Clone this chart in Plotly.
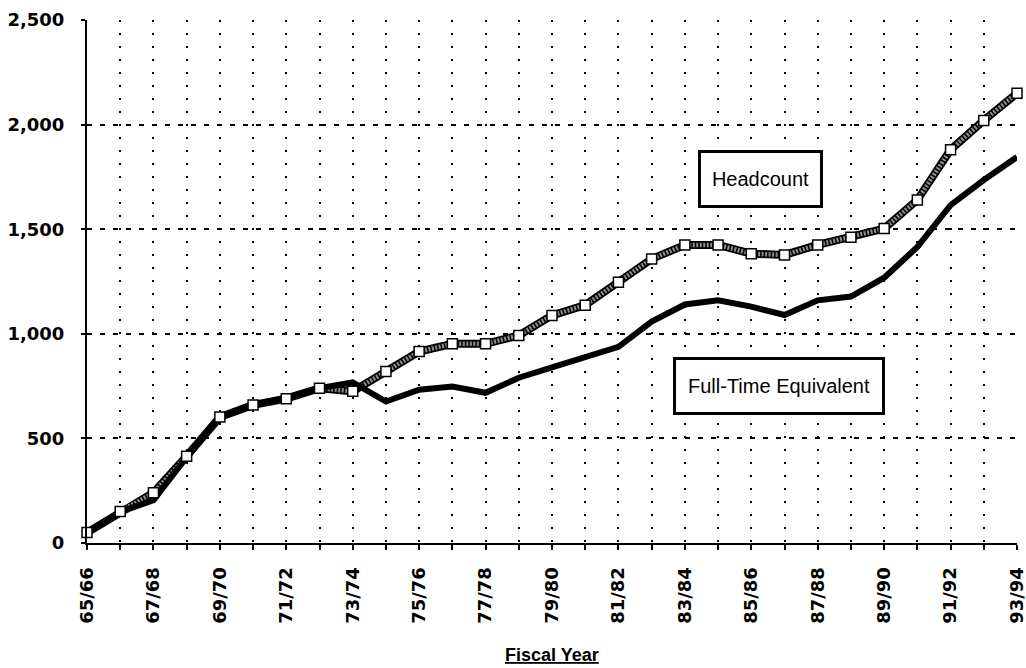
import plotly.graph_objects as go

years = ["65/66", "66/67", "67/68", "68/69", "69/70", "70/71", "71/72", "72/73",
         "73/74", "74/75", "75/76", "76/77", "77/78", "78/79", "79/80", "80/81",
         "81/82", "82/83", "83/84", "84/85", "85/86", "86/87", "87/88", "88/89",
         "89/90", "90/91", "91/92", "92/93", "93/94"]
headcount = [50, 150, 240, 415, 602, 660, 690, 740,
             725, 820, 915, 952, 952, 992, 1088, 1137,
             1246, 1358, 1425, 1425, 1383, 1377, 1425, 1462,
             1503, 1640, 1880, 2020, 2150]
fte = [50, 148, 205, 410, 600, 660, 695, 740,
       768, 676, 733, 748, 718, 790, 840, 889,
       938, 1058, 1140, 1160, 1130, 1090, 1160, 1178,
       1268, 1415, 1615, 1735, 1845]
yticks = [0, 500, 1000, 1500, 2000, 2500]
ytick_text = ["0", "500", "1,000", "1,500", "2,000", "2,500"]

xs = list(range(len(years)))
xtick_text = [lab if i % 2 == 0 else "" for i, lab in enumerate(years)]

fig = go.Figure()
# Headcount: black band with grey dotted core
fig.add_trace(go.Scatter(x=xs, y=headcount, mode="lines",
                         line=dict(color="black", width=8),
                         cliponaxis=False, showlegend=False, hoverinfo="skip"))
fig.add_trace(go.Scatter(x=xs, y=headcount, mode="lines",
                         line=dict(color="#8c8c8c", width=4.5, dash="2px,1.5px"),
                         cliponaxis=False, showlegend=False, hoverinfo="skip"))
# Full-Time Equivalent
fig.add_trace(go.Scatter(x=xs, y=fte, mode="lines", name="Full-Time Equivalent",
                         line=dict(color="black", width=6),
                         cliponaxis=False, showlegend=False))
# Headcount markers
fig.add_trace(go.Scatter(x=xs, y=headcount, mode="markers", name="Headcount",
                         marker=dict(symbol="square", size=10, color="white",
                                     line=dict(color="black", width=1.5)),
                         cliponaxis=False, showlegend=False))

fig.update_layout(
    width=1026, height=668,
    margin=dict(l=87, r=9, t=20, b=125),
    paper_bgcolor="white", plot_bgcolor="white",
    showlegend=False,
    xaxis=dict(range=[0, 28], tickmode="array", tickvals=xs, ticktext=xtick_text,
               tickangle=-90, tickfont=dict(family="DejaVu Sans", size=18,
                                            color="black", weight="bold"),
               ticklabeloverflow="allow",
               showgrid=True, gridcolor="black", gridwidth=1.5, griddash="2px,11px",
               showline=True, linecolor="black", linewidth=2,
               ticks="outside", ticklen=5, tickcolor="black", tickwidth=1.5,
               ticklabelstandoff=10, zeroline=False, automargin=False),
    yaxis=dict(range=[0, 2500], tickmode="array", tickvals=yticks, ticktext=ytick_text,
               tickfont=dict(family="DejaVu Sans", size=18, color="black", weight="bold"),
               showgrid=True, gridcolor="black", gridwidth=1.5, griddash="5px,8px",
               showline=True, linecolor="black", linewidth=2,
               ticks="outside", ticklen=4, tickcolor="black", tickwidth=1.5,
               ticklabelstandoff=13, zeroline=False, automargin=False),
    annotations=[
        dict(text="<u>Fiscal Year</u>", xref="paper", yref="paper", x=0.5, y=-0.214,
             showarrow=False, xanchor="center", yanchor="middle",
             font=dict(family="Arial", size=18, color="black", weight="bold")),
        dict(text="Headcount", xref="paper", yref="paper", x=0.7246, y=0.696,
             showarrow=False, xanchor="center", yanchor="middle",
             width=115, height=48, borderpad=2, bordercolor="black", borderwidth=3,
             bgcolor="white", font=dict(family="Arial", size=20, color="black")),
        dict(text="Full-Time Equivalent", xref="paper", yref="paper", x=0.744, y=0.300,
             showarrow=False, xanchor="center", yanchor="middle",
             width=202, height=48, borderpad=2, bordercolor="black", borderwidth=3,
             bgcolor="white", font=dict(family="Arial", size=20, color="black")),
    ],
)

fig.write_html("out.html", config={"displayModeBar": False},
               post_script="document.body.style.margin='0';"
                           "document.body.style.overflow='hidden';")
